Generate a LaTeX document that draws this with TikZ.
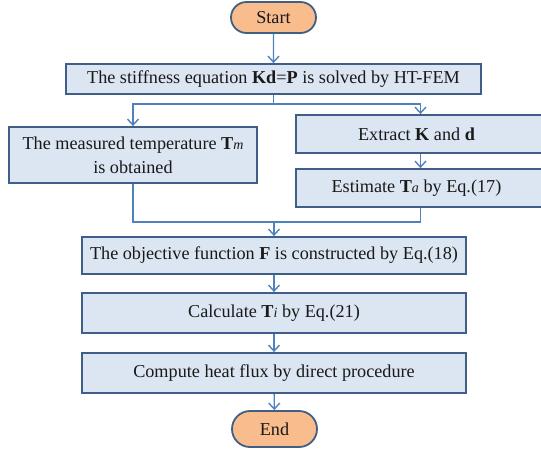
\documentclass[tikz,border=0pt]{standalone}
\usepackage{fontspec}
\setmainfont{Liberation Serif}
\usetikzlibrary{arrows.meta,shapes.misc}
\definecolor{boxfill}{HTML}{DCE6F2}
\definecolor{boxline}{HTML}{3F5F86}
\definecolor{arrline}{HTML}{4F81BD}
\definecolor{termfill}{HTML}{F9BC8C}
\newcommand{\sub}[1]{{\fontsize{14}{14}\selectfont\itshape #1}}
\tikzset{
  x=1pt, y=1pt,
  every node/.style={font=\fontsize{18.2}{24}\selectfont, text=black!90},
  procbox/.style={draw=boxline, fill=boxfill, line width=1.8pt, rectangle, inner sep=0pt, align=center},
  termbox/.style={draw=boxline, fill=termfill, line width=1.8pt, rounded rectangle, inner sep=0pt, align=center},
  conn/.style={draw=arrline, line width=1.4pt},
  arr/.style={conn, -{Straight Barb[length=6pt,width=11pt,line width=1.4pt]}},
}
\begin{document}
\begin{tikzpicture}
\useasboundingbox (0,0) rectangle (541,-451);
\node[termbox, minimum width=85pt, minimum height=31pt] (start) at (273.5,-17.5) {Start};
\node[procbox, minimum width=415pt, minimum height=30pt] (b1) at (273.5,-79) {The stiffness equation \textbf{Kd}=\textbf{P} is solved by HT-FEM};
\node[procbox, minimum width=248pt, minimum height=56pt] (left) at (133,-155) {The measured temperature \textbf{T}\sub{m}\\is obtained};
\node[procbox, minimum width=249pt, minimum height=38pt] (r1) at (420.5,-134) {\hspace*{-8pt}Extract \textbf{K} and \textbf{d}};
\node[procbox, minimum width=249pt, minimum height=38pt] (r2) at (420.5,-188) {\hspace*{-8pt}Estimate \textbf{T}\sub{a}\ by Eq.(17)};
\node[procbox, minimum width=384pt, minimum height=37pt] (obj) at (274,-255.5) {The objective function \textbf{F} is constructed by Eq.(18)};
\node[procbox, minimum width=384pt, minimum height=40pt] (calc) at (274,-313) {Calculate \textbf{T}\sub{i} by Eq.(21)};
\node[procbox, minimum width=384pt, minimum height=40pt] (comp) at (274,-373) {Compute heat flux by direct procedure};
\node[termbox, minimum width=85pt, minimum height=36pt] (end) at (274.5,-429) {End};
\coordinate (sp) at (273.5,-104);
\coordinate (mp) at (274,-222);
\draw[arr] (start) -- (b1);
\draw[conn] (b1.south) -- (sp);
\draw[arr] (sp) -| (left.north);
\draw[arr] (sp) -| (r1.north);
\draw[arr] (r1) -- (r2);
\draw[conn] (left.south) |- (mp);
\draw[conn] (r2.south) |- (mp);
\draw[arr] (mp) -- (obj.north);
\draw[arr] (obj) -- (calc);
\draw[arr] (calc) -- (comp);
\draw[arr] (comp) -- (end);
\end{tikzpicture}
\end{document}
